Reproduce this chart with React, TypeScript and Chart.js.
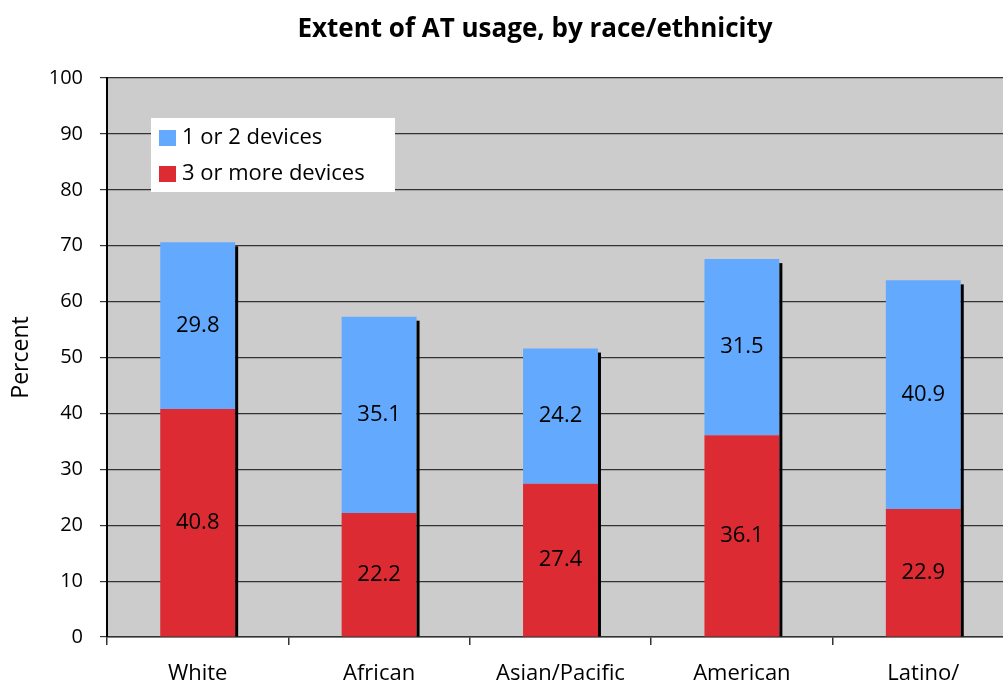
import React, { useEffect, useRef } from "react";
import { Chart, registerables } from "chart.js";

Chart.register(...registerables);

const titleText = "Extent of AT usage, by race/ethnicity";
const categories: string[][] = [
  ["White"],
  ["African", "American"],
  ["Asian/Pacific", "Islander"],
  ["American", "Indian"],
  ["Latino/", "Hispanic"],
];
const threeOrMore: number[] = [40.8, 22.2, 27.4, 36.1, 22.9];
const oneOrTwo: number[] = [29.8, 35.1, 24.2, 31.5, 40.9];
const yTicks: number[] = [0, 10, 20, 30, 40, 50, 60, 70, 80, 90, 100];

const FONT = "'Open Sans', 'DejaVu Sans', sans-serif";
const BLUE = "#63aaff";
const RED = "#dc2b33";

const bgPlugin = {
  id: "plotBg",
  beforeDraw(chart: any) {
    const { ctx, chartArea } = chart;
    ctx.save();
    ctx.fillStyle = "#cccccc";
    ctx.fillRect(chartArea.left, chartArea.top, chartArea.right - chartArea.left, chartArea.bottom - chartArea.top);
    ctx.restore();
  },
};

const titlePlugin = {
  id: "customTitle",
  afterDraw(chart: any) {
    const { ctx, chartArea } = chart;
    ctx.save();
    ctx.font = `bold 26px ${FONT}`;
    ctx.fillStyle = "#000";
    ctx.textAlign = "center";
    ctx.textBaseline = "middle";
    ctx.fillText(titleText, chartArea.left + 428, chartArea.top - 48);
    ctx.restore();
  },
};

const shadowPlugin = {
  id: "barShadow",
  afterDatasetsDraw(chart: any) {
    const { ctx } = chart;
    const topMeta = chart.getDatasetMeta(chart.data.datasets.length - 1);
    const baseMeta = chart.getDatasetMeta(0);
    ctx.save();
    ctx.fillStyle = "#000";
    topMeta.data.forEach((bar: any, i: number) => {
      const p = bar.getProps(["x", "y", "width"], true);
      const base = baseMeta.data[i].getProps(["base"], true).base;
      ctx.fillRect(p.x + p.width / 2, p.y + 4, 3, base - p.y - 4);
    });
    ctx.restore();
  },
};

const labelPlugin = {
  id: "segLabels",
  afterDatasetsDraw(chart: any) {
    const { ctx } = chart;
    ctx.save();
    ctx.font = `22px ${FONT}`;
    ctx.fillStyle = "#000";
    ctx.textAlign = "center";
    ctx.textBaseline = "middle";
    chart.data.datasets.forEach((ds: any, di: number) => {
      const meta = chart.getDatasetMeta(di);
      meta.data.forEach((bar: any, i: number) => {
        const p = bar.getProps(["x", "y", "base"], true);
        ctx.fillText(Number(ds.data[i]).toFixed(1), p.x, (p.y + p.base) / 2);
      });
    });
    ctx.restore();
  },
};

const legendPlugin = {
  id: "insideLegend",
  afterDraw(chart: any) {
    const { ctx, chartArea } = chart;
    const x = chartArea.left + 44;
    const y = chartArea.top + 40;
    ctx.save();
    ctx.fillStyle = "#ffffff";
    ctx.fillRect(x, y, 244, 74);
    const items = [...chart.data.datasets].reverse();
    ctx.font = `22px ${FONT}`;
    ctx.textBaseline = "middle";
    ctx.textAlign = "left";
    items.forEach((ds: any, k: number) => {
      const cy = y + 20 + k * 36;
      ctx.fillStyle = ds.backgroundColor;
      ctx.fillRect(x + 8, cy - 8, 17, 16);
      ctx.fillStyle = "#000";
      ctx.fillText(ds.label, x + 31, cy);
    });
    ctx.restore();
  },
};

function BarChart() {
  const ref = useRef<HTMLCanvasElement | null>(null);
  useEffect(() => {
    if (!ref.current) return;
    const chart = new Chart(ref.current, {
      type: "bar",
      data: {
        labels: categories,
        datasets: [
          { label: "3 or more devices", data: threeOrMore, backgroundColor: RED, borderWidth: 0 },
          { label: "1 or 2 devices", data: oneOrTwo, backgroundColor: BLUE, borderWidth: 0 },
        ],
      },
      options: {
        responsive: false,
        animation: false,
        layout: { padding: { left: 0, right: 56, top: 78, bottom: 0 } },
        datasets: { bar: { categoryPercentage: 1, barPercentage: 0.413 } },
        plugins: {
          legend: { display: false },
          tooltip: { enabled: false },
          title: { display: false },
        },
        scales: {
          x: {
            stacked: true,
            offset: true,
            afterFit: (s: any) => { s.height = 83; },
            grid: { offset: true, drawOnChartArea: false, drawTicks: true, tickLength: 8, color: "#333", lineWidth: 1.5 },
            border: { display: true, color: "#333", width: 1.5 },
            ticks: { color: "#000", padding: 16, font: { family: FONT, size: 22 }, maxRotation: 0, autoSkip: false },
          },
          y: {
            stacked: true,
            min: 0,
            max: 100,
            afterFit: (s: any) => { s.width = 107; },
            afterBuildTicks: (s: any) => { s.ticks = yTicks.map((v) => ({ value: v })); },
            grid: { color: "#333", lineWidth: 1.2, tickLength: 7, drawTicks: true },
            border: { display: true, color: "#000", width: 2 },
            ticks: { color: "#000", padding: 17, font: { family: FONT, size: 20 } },
            title: { display: true, text: "Percent", color: "#000", font: { family: FONT, size: 23 }, padding: { top: 8, bottom: 0 } },
          },
        },
      },
      plugins: [bgPlugin, shadowPlugin, labelPlugin, legendPlugin, titlePlugin],
    });
    return () => chart.destroy();
  }, []);
  return <canvas ref={ref} width={1070} height={720} style={{ width: 1070, height: 720, display: "block" }} />;
}

export default function App() {
  return (
    <div style={{ position: "fixed", left: 0, top: 0, width: 1003, height: 683, overflow: "hidden", background: "#fff" }}>
      <BarChart />
    </div>
  );
}
